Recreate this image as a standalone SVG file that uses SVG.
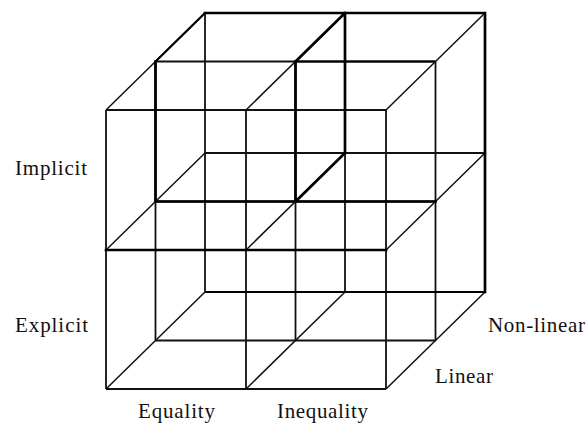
<svg xmlns="http://www.w3.org/2000/svg" width="586" height="423" viewBox="0 0 586 423">
<style>
.n{stroke:#111;stroke-width:1.8;fill:none}
.d{stroke:#111;stroke-width:1.5;fill:none}
.t{stroke:#000;stroke-width:2.7;fill:none;stroke-linecap:square}
.m{stroke:#000;stroke-width:2.2;fill:none}
text{font-family:"Liberation Serif","Times New Roman",serif;font-size:21px;fill:#111}
</style>
<rect width="586" height="423" fill="#fff"/>
<g id="connectors">
<path class="n" d="M106 110H386M155.5 61.5H435.5M205 13H485M106 250H386M155.5 201.5H435.5M205 153H485M106 389H386M155.5 340.5H435.5M205 292H485"/>
<path class="n" d="M106 110V389M155.5 61.5V340.5M205 13V292M246 110V389M295.5 61.5V340.5M345 13V292M386 110V389M435.5 61.5V340.5M485 13V292"/>
<path class="d" d="M106 110L205 13M246 110L345 13M386 110L485 13M106 250L205 153M246 250L345 153M386 250L485 153M106 389L205 292M246 389L345 292M386 389L485 292"/>
<path class="t" d="M205 13H485V292M106 250H386M155.5 201.5H435.5M155.5 61.5V201.5M295.5 61.5V201.5M345 13V153M295.5 61.5L345 13M295.5 201.5L345 153"/>
<path class="m" d="M295.5 61.5H435.5M205 292H485M155.5 61.5L205 13"/>
</g>
<g id="label-implicit"><text x="15" y="175" textLength="72" lengthAdjust="spacing">Implicit</text></g>
<g id="label-explicit"><text x="15" y="332" textLength="73" lengthAdjust="spacing">Explicit</text></g>
<g id="label-equality"><text x="138" y="418" textLength="77" lengthAdjust="spacing">Equality</text></g>
<g id="label-inequality"><text x="277" y="418" textLength="91" lengthAdjust="spacing">Inequality</text></g>
<g id="label-linear"><text x="435" y="383" textLength="58" lengthAdjust="spacing">Linear</text></g>
<g id="label-nonlinear"><text x="488" y="332" textLength="97" lengthAdjust="spacing">Non-linear</text></g>
</svg>
